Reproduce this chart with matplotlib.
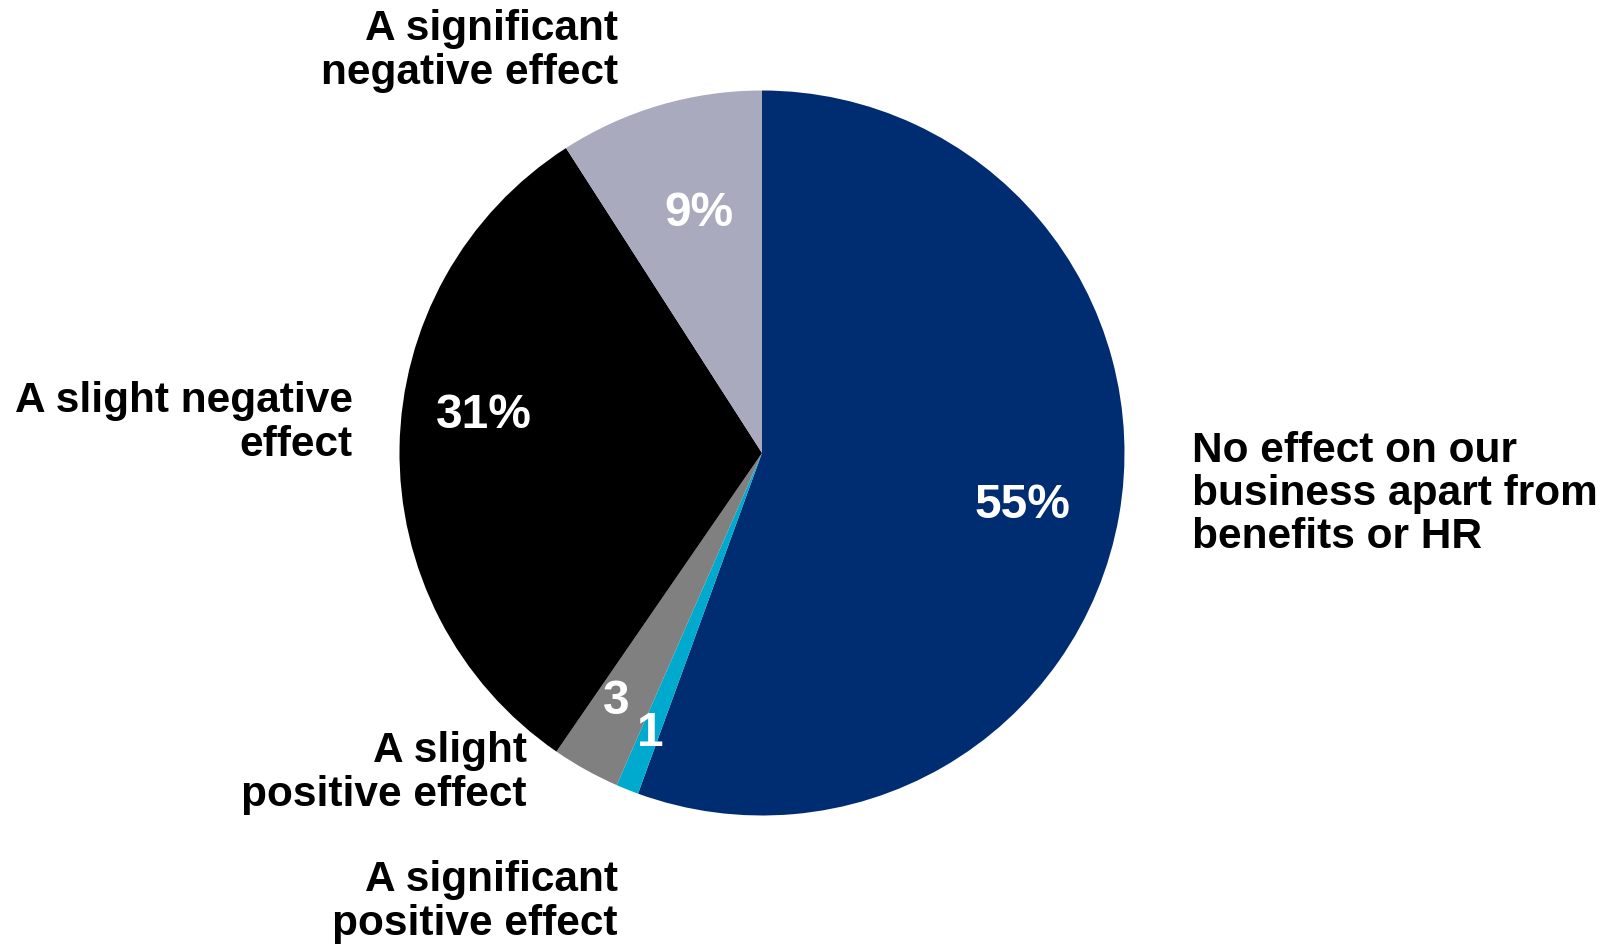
import matplotlib.pyplot as plt

# survey shares, clockwise from 12 o'clock
categories = [
    "No effect on our\nbusiness apart from\nbenefits or HR",
    "A significant\npositive effect",
    "A slight\npositive effect",
    "A slight negative\neffect",
    "A significant\nnegative effect",
]
shares = [55, 1, 3, 31, 9]
value_labels = ["55%", "1", "3", "31%", "9%"]
colors = ["#002D72", "#00A9CE", "#808080", "#000000", "#A9AABE"]

W, H = 1615, 947

plt.rcParams["font.family"] = ["Liberation Sans", "DejaVu Sans"]

fig = plt.figure(figsize=(W / 100, H / 100), dpi=100)
ax = fig.add_axes([0, 0, 1, 1])

cx, cy, r = 762, H - 453, 362.5
ax.pie(shares, colors=colors, startangle=90, counterclock=False,
       center=(cx, cy), radius=r, frame=True,
       wedgeprops=dict(linewidth=0))
ax.set_xlim(0, W)
ax.set_ylim(0, H)
ax.set_aspect("equal")
ax.axis("off")

# value labels inside the wedges
val_pos = [(1022, 505), (650, 733), (616, 702), (484, 415), (699, 213)]
for lab, (x, y) in zip(value_labels, val_pos):
    ax.text(x, H - y, lab, color="white", ha="center", va="center",
            fontsize=34.5, fontweight="bold")

# category labels around the pie
cat_pos = [
    (1192, 494, "left"),
    (618, 902, "right"),
    (527, 773, "right"),
    (353, 423, "right"),
    (618, 51, "right"),
]
for lab, (x, y, ha) in zip(categories, cat_pos):
    ax.text(x, H - y, lab, color="black", ha=ha, va="center",
            fontsize=30.5, fontweight="bold", linespacing=1.1)

fig.savefig("out.png", dpi=100)
